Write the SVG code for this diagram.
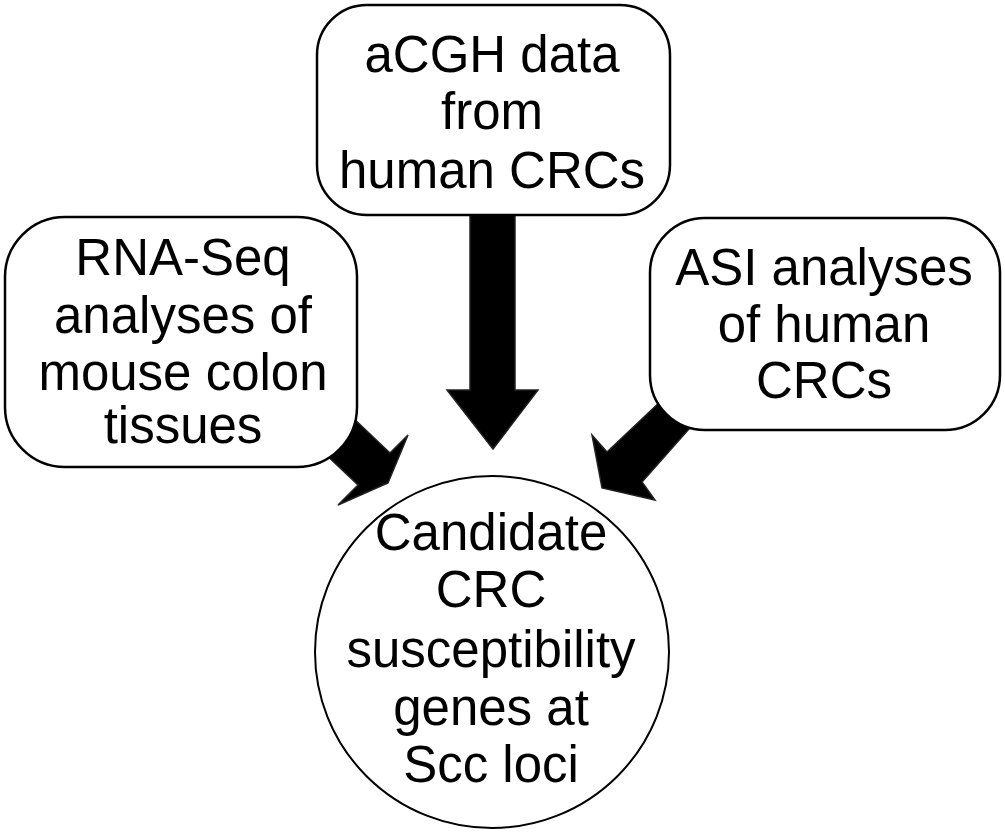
<svg xmlns="http://www.w3.org/2000/svg" width="1005" height="833" viewBox="0 0 1005 833">
<style>
.box{fill:#fff;stroke:#000;stroke-width:2.5}
.arr{fill:#000;stroke:#222;stroke-width:1.5;stroke-linejoin:miter}
.t{font-family:"Liberation Sans",Arial,sans-serif;font-size:51px;fill:#000;text-anchor:middle}
</style>
<rect width="1005" height="833" fill="#fff"/>
<g id="connectors">
<polygon class="arr" points="470,200 470,390 447,390 493,449 538,390 515,390 515,200"/>
<polygon class="arr" points="310,377 390,453 408,435 388,483 338,505 358,485 283,414"/>
<polygon class="arr" points="700,364 607,452 592,435 602,488 655,500 642,482 720,394"/>
</g>
<g id="node-acgh">
<rect class="box" x="317" y="5" width="353" height="210" rx="50" ry="50"/>
<text class="t" x="492" y="72">aCGH data</text>
<text class="t" x="492" y="129">from</text>
<text class="t" x="492" y="188">human CRCs</text>
</g>
<g id="node-rnaseq">
<rect class="box" x="5" y="217" width="352" height="250" rx="60" ry="60"/>
<text class="t" x="183" y="275">RNA-Seq</text>
<text class="t" x="183" y="333">analyses of</text>
<text class="t" x="183" y="390">mouse colon</text>
<text class="t" x="183" y="443">tissues</text>
</g>
<g id="node-asi">
<rect class="box" x="650" y="218" width="350" height="212" rx="55" ry="55"/>
<text class="t" x="824" y="285">ASI analyses</text>
<text class="t" x="824" y="342">of human</text>
<text class="t" x="824" y="398">CRCs</text>
</g>
<g id="node-candidate">
<ellipse class="box" cx="492" cy="652" rx="177" ry="176" style="stroke-width:2"/>
<text class="t" x="491" y="550">Candidate</text>
<text class="t" x="491" y="607">CRC</text>
<text class="t" x="491" y="667">susceptibility</text>
<text class="t" x="491" y="725">genes at</text>
<text class="t" x="491" y="782">Scc loci</text>
</g>
</svg>
